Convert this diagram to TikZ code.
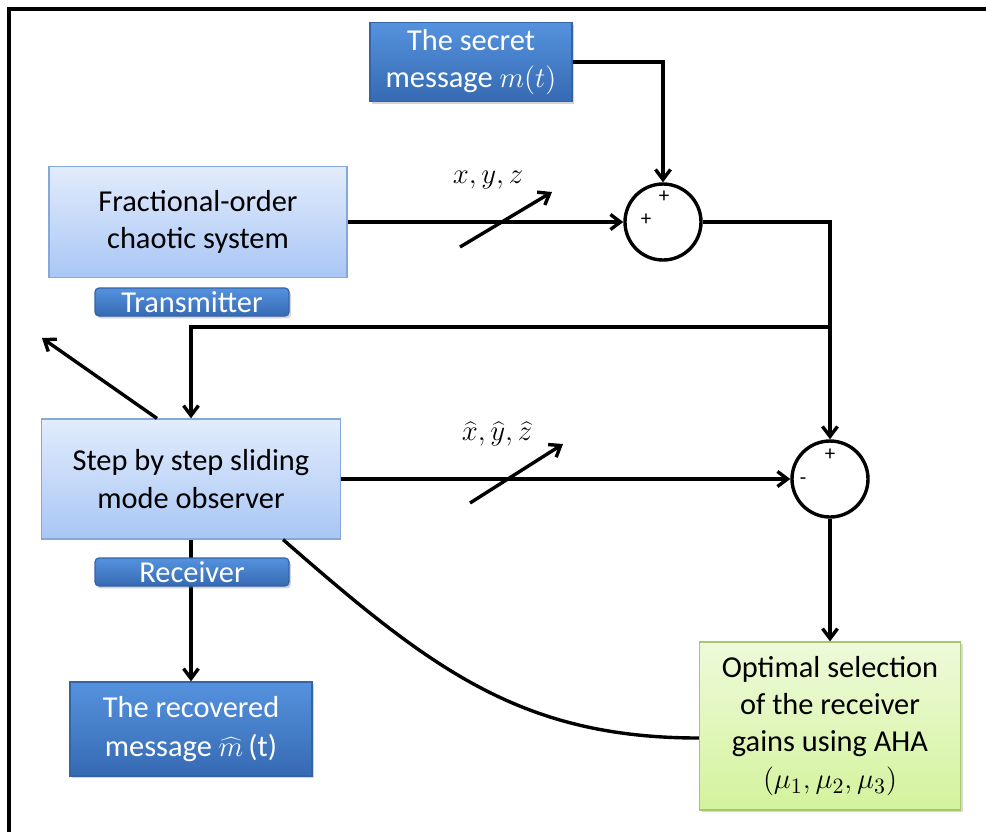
\documentclass[tikz,border=0pt]{standalone}
\usepackage{fontspec}
\setmainfont{Carlito}
\usetikzlibrary{arrows.meta,shadows}

\begin{document}
\begin{tikzpicture}[x=0.5pt, y=-0.5pt, line width=1.7pt,
    every node/.style={align=center, font=\fontsize{15.2}{18.6}\selectfont},
    arrow/.style={-{Straight Barb[length=5pt,width=7.5pt]}},
    lightbox/.style={draw=lightBorder, line width=0.6pt, top color=lightTop, bottom color=lightBottom, text=black},
    darkbox/.style={draw=darkBorder, line width=0.6pt, top color=darkTop, bottom color=darkBottom, text=white,
        drop shadow={opacity=0.35, shadow xshift=1pt, shadow yshift=-1.2pt}},
    greenbox/.style={draw=greenBorder, line width=0.6pt, top color=greenTop, bottom color=greenBottom, text=black,
        drop shadow={opacity=0.3, shadow xshift=1pt, shadow yshift=-1.2pt}},
    tabbox/.style={darkbox, rounded corners=2pt, inner sep=0pt, minimum width=97pt, minimum height=14pt},
    sumnode/.style={draw, circle, minimum size=38pt, inner sep=0pt, fill=white},
    sign/.style={inner sep=0pt, font=\fontsize{10.5}{12}\selectfont}]

    % Define colours
    \definecolor{lightTop}{HTML}{E2ECFC}
    \definecolor{lightBottom}{HTML}{A9C6F5}
    \definecolor{lightBorder}{HTML}{85A8DA}
    \definecolor{darkTop}{HTML}{5592DE}
    \definecolor{darkBottom}{HTML}{366AB3}
    \definecolor{darkBorder}{HTML}{3463A6}
    \definecolor{greenTop}{HTML}{EEFADA}
    \definecolor{greenBottom}{HTML}{D3F39C}
    \definecolor{greenBorder}{HTML}{A6C86A}

    % Fix picture size
    \useasboundingbox (0,0) rectangle (986,832);

    % Draw frame
    \draw[line width=1.8pt] (9,832) -- (9,9) -- (986,9);

    % Draw the blocks
    \node[darkbox, minimum width=101pt, minimum height=36.5pt] (secret) at (471,62) {The secret\\message $m(t)$};
    \node[lightbox, minimum width=149pt, minimum height=55.5pt] (fractional) at (198,222) {Fractional-order\\chaotic system};
    \node[tabbox] (transmitter) at (192,302) {Transmitter};
    \node[lightbox, minimum width=149.5pt, minimum height=60pt] (observer) at (191,479) {Step by step sliding\\mode observer};
    \node[darkbox, minimum width=121pt, minimum height=47pt] (recovered) at (191,729) {The recovered\\[1pt]message $\widehat{m}$\,(t)};
    \node[greenbox, minimum width=130.5pt, minimum height=84pt] (aha) at (830,726) {Optimal selection\\of the receiver\\gains using AHA\\$(\mu_1,\mu_2,\mu_3)$};

    % Draw the summing junctions
    \node[sumnode] (sumA) at (663,222) {};
    \node[sign] (plusA) at (664,197) {+};
    \node[sign] (plusB) at (646,220) {+};
    \node[sumnode] (sumB) at (830,479) {};
    \node[sign] (plusC) at (830,455) {+};
    \node[sign] (minusA) at (803,481) {-};

    % Draw the signal lines
    \draw[arrow] (secret.east) -| (sumA.north);
    \draw[arrow] (fractional.east) -- (sumA.west);
    \draw[arrow] (sumA.east) -| (sumB.north);
    \coordinate (tap) at (830,327);
    \draw[arrow] (tap) -| (observer.north);
    \coordinate (outTip) at (42,338);
    \draw[arrow] ([xshift=-17pt]observer.north) -- (outTip);
    \draw[arrow] (observer.east) -- (sumB.west);
    \draw[arrow] (sumB.south) -- (aha.north);
    \draw ([yshift=-6pt]aha.west) .. controls (520,738) and (430,668) .. ([xshift=-29pt]observer.south east);
    \draw[arrow] (observer.south) -- (recovered.north);
    \node[tabbox] (receiver) at (192,572) {Receiver};

    % Draw the bus marks and their labels
    \coordinate (busA) at (460,247);
    \coordinate (busB) at (552,192);
    \draw[arrow] (busA) -- (busB);
    \node (labelA) at (488,180) {$x, y, z$};
    \coordinate (busC) at (470,503);
    \coordinate (busD) at (563,444);
    \draw[arrow] (busC) -- (busD);
    \node (labelB) at (497,434) {$\widehat{x}, \widehat{y}, \widehat{z}$};

\end{tikzpicture}
\end{document}
